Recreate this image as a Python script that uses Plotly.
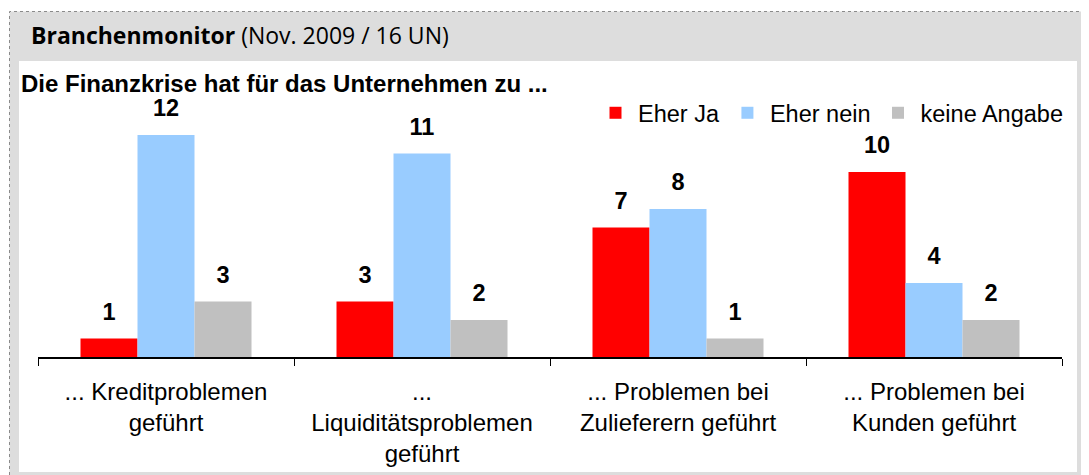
import plotly.graph_objects as go

categories = [
    "... Kreditproblemen<br>geführt",
    "...<br>Liquiditätsproblemen<br>geführt",
    "... Problemen bei<br>Zulieferern geführt",
    "... Problemen bei<br>Kunden geführt",
]
series_names = ["Eher Ja", "Eher nein", "keine Angabe"]
eher_ja = [1, 3, 7, 10]
eher_nein = [12, 11, 8, 4]
keine_angabe = [3, 2, 1, 2]
series_values = [eher_ja, eher_nein, keine_angabe]
colors = ["#FF0000", "#99CCFF", "#C0C0C0"]

FONT = "Liberation Sans, Arial, sans-serif"
W, H = 1089, 475
OFF = 8  # page body margin
# plot area in page pixels: x 38..1062, y 100..357
L = 38 - OFF
R = W - (1062 - OFF)
T = 100 - OFF
B = H - (357 - OFF)
PW, PH = W - L - R, H - T - B
YMAX = PH / 18.5


def px_x(p):
    return (p - OFF - L) / PW


def px_y(p):
    return (H - B - (p - OFF)) / PH


fig = go.Figure()
for i, (name, vals, col) in enumerate(zip(series_names, series_values, colors)):
    fig.add_trace(go.Bar(
        x=categories, y=vals, name=name, marker=dict(color=col, line=dict(width=0)),
        offsetgroup=str(i), hoverinfo="skip",
    ))
for i, vals in enumerate(series_values):
    fig.add_trace(go.Scatter(
        x=categories, y=vals, mode="markers+text", text=[str(v) for v in vals],
        textposition="top center", offsetgroup=str(i), showlegend=False,
        marker=dict(size=19, opacity=0), hoverinfo="skip", cliponaxis=False,
        textfont=dict(family=FONT, size=23.5, color="black", weight="bold"),
    ))

shapes = [
    dict(type="rect", xref="paper", yref="paper", layer="below",
         x0=px_x(9.5), x1=px_x(1110), y0=px_y(500), y1=px_y(11.5),
         fillcolor="#DDDDDD", line=dict(color="#8A8A8A", width=1, dash="dot")),
    dict(type="rect", xref="paper", yref="paper", layer="below",
         x0=px_x(19), x1=px_x(1077), y0=px_y(472), y1=px_y(61),
         fillcolor="white", line=dict(width=0)),
]

annotations = [
    dict(xref="paper", yref="paper", x=px_x(29), y=px_y(35), xanchor="left", yanchor="middle",
         text="<b>Branchenmonitor</b> (Nov. 2009 / 16 UN)", showarrow=False,
         font=dict(family="Open Sans, sans-serif", size=23, color="black")),
    dict(xref="paper", yref="paper", x=px_x(19), y=px_y(83), xanchor="left", yanchor="middle",
         text="<b>Die Finanzkrise hat für das Unternehmen zu ...</b>", showarrow=False,
         font=dict(family=FONT, size=24, color="black")),
]

fig.update_layout(
    width=W, height=H, margin=dict(l=L, r=R, t=T, b=B),
    paper_bgcolor="white", plot_bgcolor="rgba(0,0,0,0)",
    barmode="group", bargap=0.332, bargroupgap=0,
    scattermode="group", scattergap=0.332,
    shapes=shapes, annotations=annotations,
    font=dict(family=FONT, size=23, color="black"),
    legend=dict(orientation="h", x=px_x(1068), xanchor="right", y=px_y(113), yanchor="middle",
                bgcolor="rgba(0,0,0,0)", font=dict(family=FONT, size=23.5, color="black"),
                traceorder="normal", itemwidth=35),
    xaxis=dict(showline=True, linecolor="black", linewidth=1.5, ticks="outside",
               tickson="boundaries", ticklen=7, tickcolor="black", tickwidth=1,
               showgrid=False, zeroline=False, ticklabelstandoff=12,
               tickfont=dict(family=FONT, size=24, color="black")),
    yaxis=dict(visible=False, range=[0, YMAX], showgrid=False, zeroline=False),
)

fig.write_html("out.html")
